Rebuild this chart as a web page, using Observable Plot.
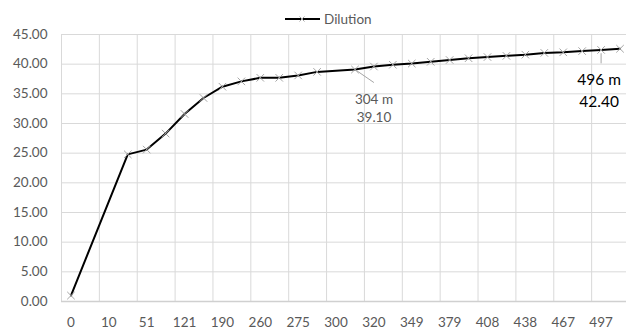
<!DOCTYPE html>
<html><head><meta charset="utf-8">
<script src="https://cdn.jsdelivr.net/npm/d3@7"></script>
<script src="https://cdn.jsdelivr.net/npm/@observablehq/plot@0.6"></script>
<style>
body{margin:0;background:#fff;}
#wrap{position:relative;width:626px;height:331px;overflow:hidden;font-family:Lato, "Open Sans", sans-serif;}
#legend{position:absolute;top:10px;left:285px;display:flex;align-items:center;font-size:13.5px;color:#595959;height:18px;}
#legend svg{display:block;margin-right:3px;}
</style></head><body><div id="wrap"><div id="legend"></div></div>
<script>
// category labels of the x axis (every category; only every other one is labelled)
const categories = ["0","5","10","30","51","86","121","155","190","225","260","268","275","288","300","304","320","335","349","364","379","394","408","423","438","453","467","482","497","512"];
// Dilution series (null = no value in that category)
const dilution = [1.0,null,null,24.8,25.6,28.3,31.6,34.3,36.2,37.1,37.7,37.7,38.1,38.7,null,39.1,39.6,39.9,40.1,40.4,40.7,41.0,41.2,41.4,41.6,41.9,42.0,42.2,42.4,42.6];
const xTickLabels = ["0","10","51","121","190","260","275","300","320","349","379","408","438","467","497"];
const yTicks = [0,5,10,15,20,25,30,35,40,45];
const seriesName = "Dilution";
const annotationCats = ["304","497"];
const annotationLabels = ["304 m\n39.10","496 m\n42.40"];

const W = 626, H = 331, xLeft = 61, xRight = 629;
const step = (xRight - xLeft) / categories.length;
const rows = categories.map((c, i) => ({cat: c, value: dilution[i]}));
const pts = rows.filter(d => d.value != null);
const gridCats = categories.filter((c, i) => i % 2 === 0);
const ann = annotationCats.map((c, i) => ({cat: c, value: dilution[categories.indexOf(c)], label: annotationLabels[i], next: categories[categories.indexOf(c) + 1]}));

const chart = Plot.plot({
  width: W, height: H,
  marginTop: 34, marginBottom: 30, marginLeft: xLeft, marginRight: W - xRight,
  style: {fontFamily: 'Lato, "Open Sans", sans-serif', fontSize: "13.5px", color: "#595959", background: "transparent", overflow: "visible"},
  x: {type: "point", domain: categories, range: [xLeft, xRight], padding: 0.5, round: false, axis: null},
  y: {domain: [0, 45], axis: null, label: null},
  marks: [
    Plot.ruleY(yTicks, {stroke: "#d9d9d9", strokeWidth: 1}),
    Plot.ruleX(gridCats, {x: d => d, stroke: "#d9d9d9", strokeWidth: 1, dx: -step / 2}),
    Plot.ruleY([0], {stroke: "#d0d0d0", strokeWidth: 1.4}),
    Plot.axisY(yTicks, {tickSize: 0, tickPadding: 14, tickFormat: d3.format(".2f"), fill: "#595959", fontSize: 13.5, label: null}),
    Plot.axisX(xTickLabels, {tickSize: 0, tickPadding: 16, fill: "#595959", fontSize: 13.5, label: null}),
    Plot.line(pts, {x: "cat", y: "value", stroke: "#000", strokeWidth: 2, strokeLinejoin: "round"}),
    Plot.dot(pts, {x: "cat", y: "value", symbol: "times", r: 3.5, stroke: "#a6a6a6", strokeWidth: 1}),
    // leader lines
    Plot.link([ann[0]], {x1: "cat", y1: "value", x2: "next", y2: d => d.value - 2.2, stroke: "#a6a6a6", strokeWidth: 1}),
    Plot.link([ann[1]], {x1: "cat", x2: "cat", y1: d => d.value - 0.56, y2: d => d.value - 2.26, stroke: "#a6a6a6", strokeWidth: 1}),
    // labels
    Plot.text([ann[0]], {x: "cat", y: "value", text: "label", dx: 19, dy: 37.6, fill: "#595959", fontSize: 13.5, lineHeight: 1.35, textAnchor: "middle"}),
    Plot.text([ann[1]], {x: "cat", y: "value", text: "label", dx: -2, dy: 38.8, fill: "#000", fontSize: 15.5, lineHeight: 1.4, textAnchor: "middle"})
  ]
});
document.getElementById("wrap").appendChild(chart);

// legend
const leg = document.getElementById("legend");
leg.innerHTML = '<svg width="36" height="12"><line x1="0" y1="6" x2="35" y2="6" stroke="#000" stroke-width="2"/><path d="M14.5,3.5L19.5,8.5M19.5,3.5L14.5,8.5" stroke="#a6a6a6" stroke-width="1"/></svg><span></span>';
leg.querySelector("span").textContent = seriesName;
</script>
</body></html>
